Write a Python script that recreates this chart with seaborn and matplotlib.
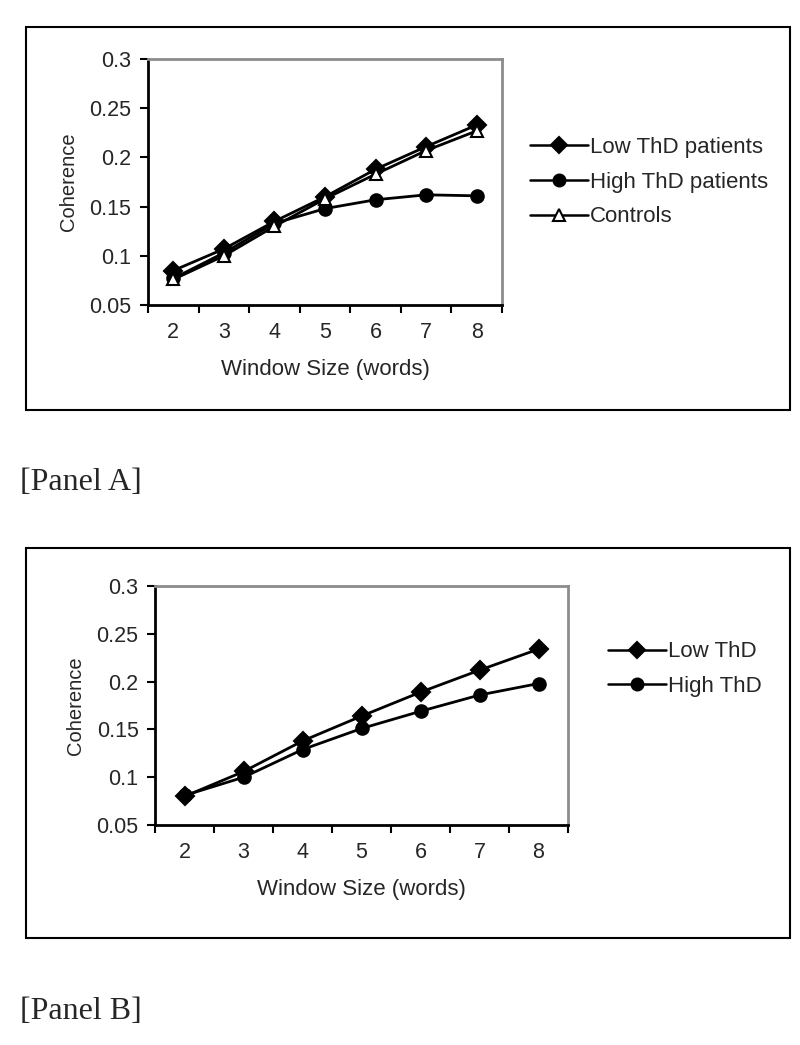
import pandas as pd
import matplotlib
matplotlib.use("Agg")
import matplotlib.pyplot as plt
import seaborn as sns
from matplotlib.patches import Rectangle

# Data
window_sizes = ["2", "3", "4", "5", "6", "7", "8"]

a_low_thd = [0.085, 0.107, 0.135, 0.160, 0.188, 0.211, 0.233]
a_high_thd = [0.077, 0.103, 0.133, 0.148, 0.157, 0.162, 0.161]
a_controls = [0.076, 0.100, 0.130, 0.158, 0.183, 0.207, 0.227]

b_low_thd = [0.080, 0.106, 0.138, 0.164, 0.189, 0.212, 0.234]
b_high_thd = [0.081, 0.100, 0.129, 0.151, 0.169, 0.186, 0.198]

y_ticks = [0.05, 0.1, 0.15, 0.2, 0.25, 0.3]
y_tick_labels = ["0.05", "0.1", "0.15", "0.2", "0.25", "0.3"]

sns.set_theme(style="white")
plt.rcParams['font.family'] = ['Liberation Sans', 'DejaVu Sans']

fig = plt.figure(figsize=(8, 10.45), dpi=100)


def draw_panel(ax, series, legend_pos):
    pos = list(range(len(window_sizes)))
    for label, values, marker, face in series:
        df = pd.DataFrame({"pos": pos, "value": values})
        sns.lineplot(data=df, x="pos", y="value", ax=ax, color="black",
                     marker=marker, markersize=9, markerfacecolor=face,
                     markeredgecolor="black", markeredgewidth=1.5,
                     linewidth=2, label=label)
    ax.set_xlim(-0.5, len(window_sizes) - 0.5)
    ax.set_ylim(0.05, 0.3)
    ax.set_yticks(y_ticks)
    ax.set_yticklabels(y_tick_labels)
    # category axis: ticks at boundaries, labels centred
    ax.set_xticks([p - 0.5 for p in pos] + [len(pos) - 0.5])
    ax.set_xticklabels([])
    ax.set_xticks(pos, minor=True)
    ax.set_xticklabels(window_sizes, minor=True)
    ax.tick_params(axis="x", which="major", direction="out", length=6,
                   width=1.5, color="black", bottom=True)
    ax.tick_params(axis="x", which="minor", length=0, pad=12, labelsize=15.5)
    ax.tick_params(axis="y", direction="out", length=6, width=1.5,
                   color="black", left=True, labelsize=15.5, pad=6)
    for side in ["left", "bottom"]:
        ax.spines[side].set_color("black")
        ax.spines[side].set_linewidth(2)
    for side in ["top", "right"]:
        ax.spines[side].set_color("#8c8c8c")
        ax.spines[side].set_linewidth(2)
    ax.set_xlabel("Window Size (words)", fontsize=16, labelpad=12)
    ax.set_ylabel("Coherence", fontsize=14.5, labelpad=8)
    leg = ax.legend(loc="upper left", bbox_to_anchor=legend_pos, frameon=False,
                    fontsize=16, handlelength=2.6, handletextpad=0.1,
                    labelspacing=0.62, borderaxespad=0, borderpad=0,
                    markerscale=0.95)
    for line in leg.get_lines():
        line.set_linewidth(1.8)
    return leg


ax_a = fig.add_axes([0.185, 0.7081, 0.4425, 0.2354])
draw_panel(ax_a, [
    ("Low ThD patients", a_low_thd, "D", "black"),
    ("High ThD patients", a_high_thd, "o", "black"),
    ("Controls", a_controls, "^", "white"),
], (1.079, 0.684))

ax_b = fig.add_axes([0.194, 0.2105, 0.516, 0.2287])
draw_panel(ax_b, [
    ("Low ThD", b_low_thd, "D", "black"),
    ("High ThD", b_high_thd, "o", "black"),
], (1.097, 0.768))

# outer frames around each chart
for y0, h in [(0.6077, 0.3663), (0.1024, 0.3732)]:
    fig.patches.append(Rectangle((0.0325, y0), 0.955, h, transform=fig.transFigure,
                                 fill=False, edgecolor="black", linewidth=1.5))

fig.text(0.025, 0.538, "[Panel A]", family=["Liberation Serif", "DejaVu Serif"],
         fontsize=23, va="center", ha="left")
fig.text(0.025, 0.032, "[Panel B]", family=["Liberation Serif", "DejaVu Serif"],
         fontsize=23, va="center", ha="left")

fig.savefig("out.png", dpi=100)
